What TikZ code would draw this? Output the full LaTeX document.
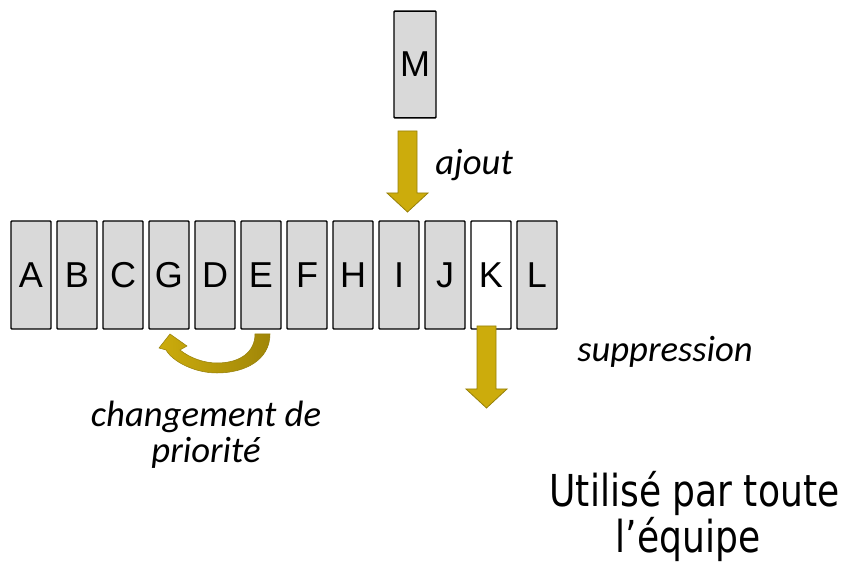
\documentclass[tikz,border=0pt]{standalone}
\usepackage{fontspec}
\setmainfont{Liberation Sans}
\newfontfamily\labfont{Carlito}
\newfontfamily\notefont[FakeStretch=0.82]{DejaVu Sans}
\usetikzlibrary{positioning}

\definecolor{cellgray}{RGB}{217,217,217}
\definecolor{arrowgold}{RGB}{204,172,12}
\definecolor{arrowdark}{RGB}{160,134,8}
\definecolor{arrowline}{RGB}{150,128,10}

\begin{document}
\begin{tikzpicture}[x=0.75pt, y=-0.75pt]
  % -----------------------------
  % STYLES
  % -----------------------------
  \tikzset{
    cell/.style={draw, line width=1.1pt, rounded corners=0.6pt, fill=cellgray,
      minimum width=30pt, minimum height=81pt, inner sep=0pt, outer sep=0pt,
      font=\fontsize{27}{32}\selectfont},
    cellw/.style={cell, fill=white},
    barrow/.style={fill=arrowgold, draw=arrowline, line width=0.6pt},
    lab/.style={font=\labfont\itshape\fontsize{27.5}{27}\selectfont, inner sep=0pt},
    note/.style={font=\notefont\fontsize{33}{34.5}\selectfont, align=center, inner sep=0pt},
  }

  \useasboundingbox (0,0) rectangle (851,566);

  % the one that gets removed
  \def\gone{K}

  % -----------------------------
  % THE LIST
  % -----------------------------
  \node[cell] (cA) at (31,275) {A};
  \foreach \l [remember=\l as \p (initially A)] in {B,C,G,D,E,F,H,I,J,K,L} {
    \ifx\l\gone
      \node[cellw, right=4.5pt of c\p] (c\l) {\l};
    \else
      \node[cell, right=4.5pt of c\p] (c\l) {\l};
    \fi
  }

  % new element
  \node[cell, minimum width=31.5pt, minimum height=80pt] (cM) at (415,64.5) {M};

  % -----------------------------
  % ARROWS
  % -----------------------------
  % ajout (down into the list)
  \draw[barrow] (398,131) -- (417,131) -- (417,193) -- (428,193) -- (407.5,212)
    -- (387,193) -- (398,193) -- cycle;
  % suppression (out of K)
  \draw[barrow] (477,326) -- (496,326) -- (496,389) -- (507,389) -- (486.5,408)
    -- (466,389) -- (477,389) -- cycle;
  % changement de priorite (E back to G)
  \draw[left color=arrowgold, right color=arrowdark, draw=arrowline, line width=0.4pt]
    (255,334) -- (270,334) .. controls (270,360) and (245,373) .. (217,373)
    .. controls (195,373) and (173,362) .. (166,350) -- (159,348) -- (170,334)
    -- (187,346) -- (180,350) .. controls (190,358) and (204,363) .. (217,363)
    .. controls (240,363) and (255,352) .. cycle;

  % -----------------------------
  % LABELS
  % -----------------------------
  \node[lab, anchor=base west] (ajout) at (435,175) {ajout};
  \node[lab, anchor=base west] (suppr) at (577,362) {suppression};
  \node[lab, anchor=base] (prio1) at (206,427) {changement de};
  \node[lab, anchor=base] (prio2) at (206,463) {priorité};
  \node[note, anchor=base] (note1) at (694.5,507) {Utilisé par toute};
  \node[note, anchor=base] (note2) at (688,553) {l’équipe};
\end{tikzpicture}
\end{document}
